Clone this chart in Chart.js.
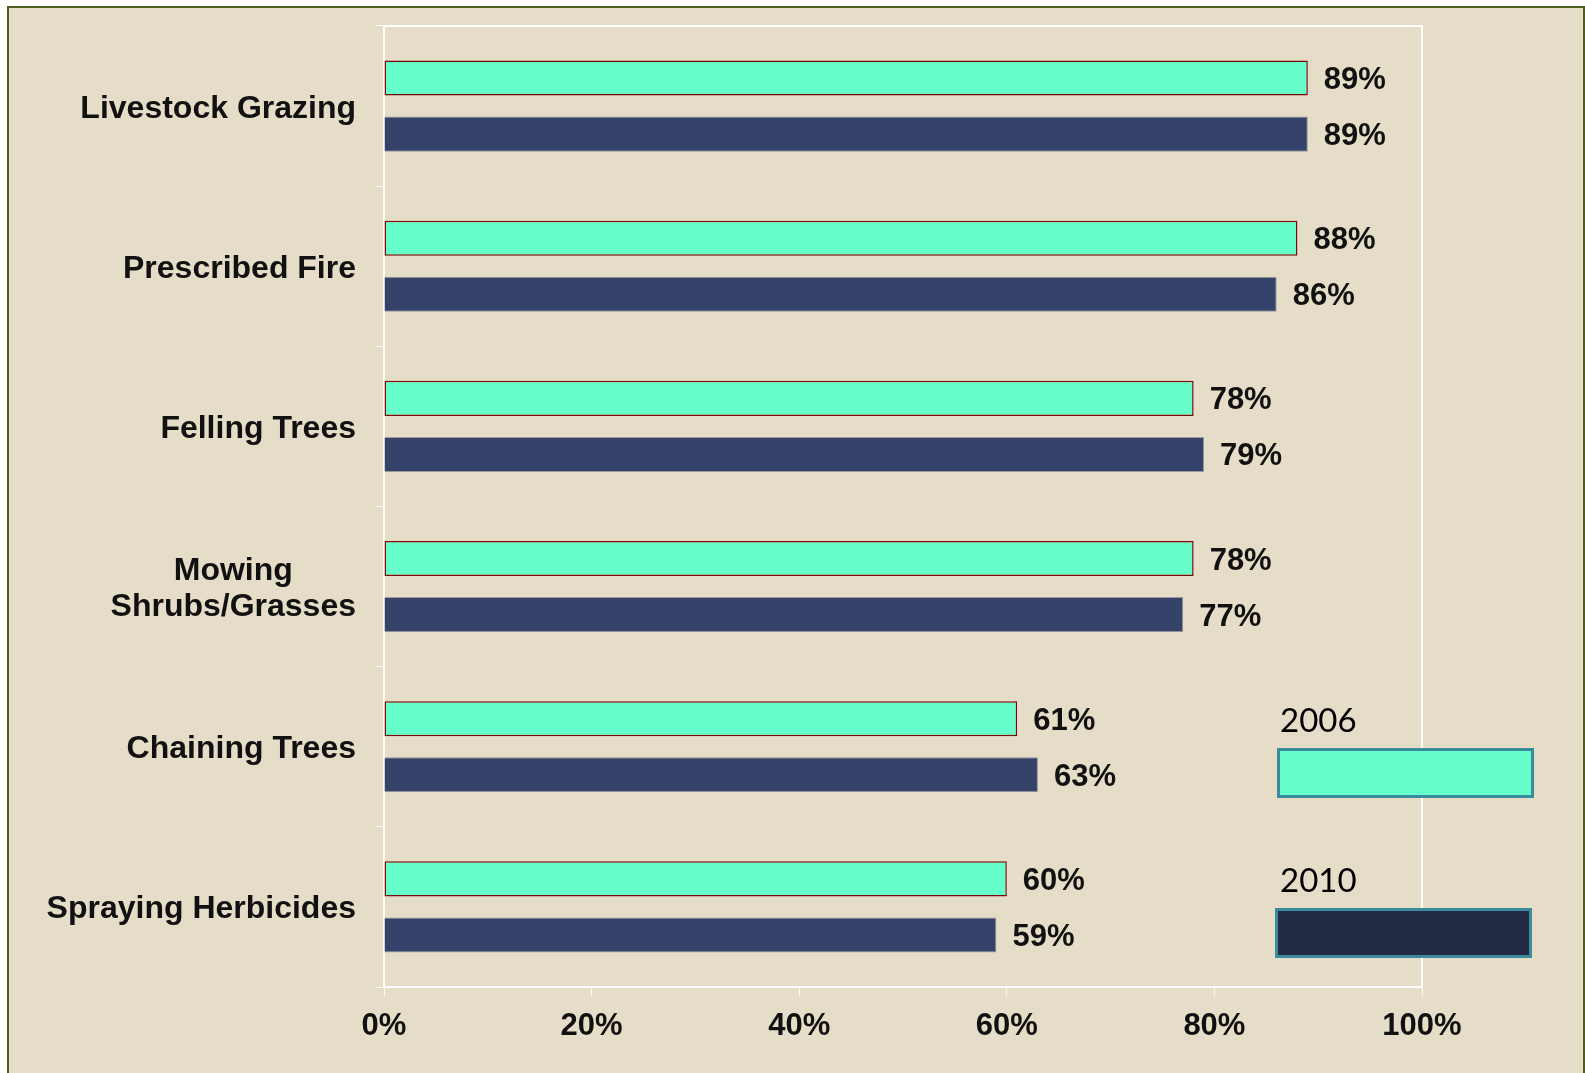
<!DOCTYPE html>
<html>
<head>
<meta charset="utf-8">
<script src="https://cdn.jsdelivr.net/npm/chart.js@4.4.1/dist/chart.umd.min.js"></script>
<style>
  html, body { margin: 0; padding: 0; background: #ffffff; overflow: hidden; }
  #frame {
    position: absolute; left: 7px; top: 6px; width: 1574px; height: 1100px;
    border: 2px solid #4b5e1d; background: #e5ddc7;
  }
  #chart { position: absolute; left: 0; top: 0; }
</style>
</head>
<body>
<div id="frame"></div>
<canvas id="chart" width="1585" height="1073"></canvas>
<script>
// ========= Data =========
const categories = ['Livestock Grazing', 'Prescribed Fire', 'Felling Trees',
  ['Mowing', 'Shrubs/Grasses'], 'Chaining Trees', 'Spraying Herbicides'];
const seriesNames = ['2006', '2010'];
const values2006 = [89, 88, 78, 78, 61, 60];
const values2010 = [89, 86, 79, 77, 63, 59];
const xTicks = [0, 20, 40, 60, 80, 100];

const labelFont = '"Liberation Sans", Arial, sans-serif';

// white frame round the plot area
const frameLines = {
  id: 'frameLines',
  beforeDatasetsDraw(chart) {
    const a = chart.chartArea, ctx = chart.ctx;
    ctx.save();
    ctx.strokeStyle = '#ffffff';
    ctx.lineWidth = 2;
    ctx.strokeRect(a.left, a.top, a.right - a.left, a.bottom - a.top);
    ctx.restore();
  }
};

// category names, multi-line ones centred on each other
const yLabels = {
  id: 'yLabels',
  afterDraw(chart) {
    const ctx = chart.ctx, y = chart.scales.y;
    const right = 356;
    ctx.save();
    ctx.font = 'bold 32px ' + labelFont;
    ctx.fillStyle = '#111111';
    ctx.textBaseline = 'alphabetic';
    ctx.textAlign = 'center';
    categories.forEach((c, i) => {
      const lines = Array.isArray(c) ? c : [c];
      const cy = y.getPixelForValue(i);
      const lh = 36;
      const maxW = Math.max(...lines.map(l => ctx.measureText(l).width));
      lines.forEach((l, k) => {
        const by = cy + 11.5 + (k - (lines.length - 1) / 2) * lh;
        ctx.fillText(l, right - maxW / 2, by);
      });
    });
    ctx.restore();
  }
};

// value labels at bar ends
const valueLabels = {
  id: 'valueLabels',
  afterDatasetsDraw(chart) {
    const ctx = chart.ctx;
    ctx.save();
    ctx.font = 'bold 31px ' + labelFont;
    ctx.fillStyle = '#111111';
    ctx.textAlign = 'left';
    ctx.textBaseline = 'alphabetic';
    chart.data.datasets.forEach((ds, di) => {
      chart.getDatasetMeta(di).data.forEach((bar, i) => {
        ctx.fillText(ds.data[i] + '%', bar.x + 16, bar.y + 11);
      });
    });
    ctx.restore();
  }
};

// legend boxes at lower right
const sideLegend = {
  id: 'sideLegend',
  afterDraw(chart) {
    const ctx = chart.ctx;
    const spots = [{ tx: 1280, ty: 732, x: 1277, y: 748, w: 257, h: 50, fill: '#66ffcc' },
                   { tx: 1280, ty: 892, x: 1275, y: 908, w: 257, h: 50, fill: '#232b45' }];
    ctx.save();
    spots.forEach((s, i) => {
      ctx.font = '33px Lato, "Open Sans", sans-serif';
      ctx.fillStyle = '#000000';
      ctx.textAlign = 'left';
      ctx.fillText(seriesNames[i], s.tx, s.ty);
      ctx.fillStyle = s.fill;
      ctx.fillRect(s.x, s.y, s.w, s.h);
      ctx.strokeStyle = '#3a8b9c';
      ctx.lineWidth = 3;
      ctx.strokeRect(s.x + 1.5, s.y + 1.5, s.w - 3, s.h - 3);
    });
    ctx.restore();
  }
};

new Chart(document.getElementById('chart'), {
  type: 'bar',
  data: {
    labels: categories,
    datasets: [{
      label: seriesNames[0],
      data: values2006,
      backgroundColor: '#66ffcc',
      borderColor: '#7a0a0a',
      borderWidth: 1.5,
      borderSkipped: false,
      categoryPercentage: 0.7,
      barPercentage: 0.625
    }, {
      label: seriesNames[1],
      data: values2010,
      backgroundColor: '#35426a',
      borderColor: '#9a9a9a',
      borderWidth: 1,
      categoryPercentage: 0.7,
      barPercentage: 0.625
    }]
  },
  options: {
    indexAxis: 'y',
    responsive: false,
    animation: false,
    devicePixelRatio: 1,
    layout: { padding: { left: 0, top: 26, right: 163, bottom: 0 } },
    plugins: { legend: { display: false }, tooltip: { enabled: false } },
    scales: {
      x: {
        min: 0, max: 100,
        afterBuildTicks: (s) => { s.ticks = xTicks.map(v => ({ value: v })); },
        afterFit: (s) => { s.height = 86; },
        grid: { drawOnChartArea: false, drawTicks: true, tickLength: 9, color: 'rgba(255,255,255,0.85)' },
        border: { color: '#ffffff', width: 2 },
        ticks: {
          padding: 12,
          color: '#111111',
          font: { family: labelFont, size: 31, weight: 'bold' },
          callback: (v) => v + '%'
        }
      },
      y: {
        afterFit: (s) => { s.width = 384; },
        grid: { drawOnChartArea: false, drawTicks: true, tickLength: 9, color: 'rgba(255,255,255,0.85)', offset: true },
        border: { color: '#ffffff', width: 2 },
        ticks: { display: false }
      }
    }
  },
  plugins: [frameLines, yLabels, valueLabels, sideLegend]
});
</script>
</body>
</html>
